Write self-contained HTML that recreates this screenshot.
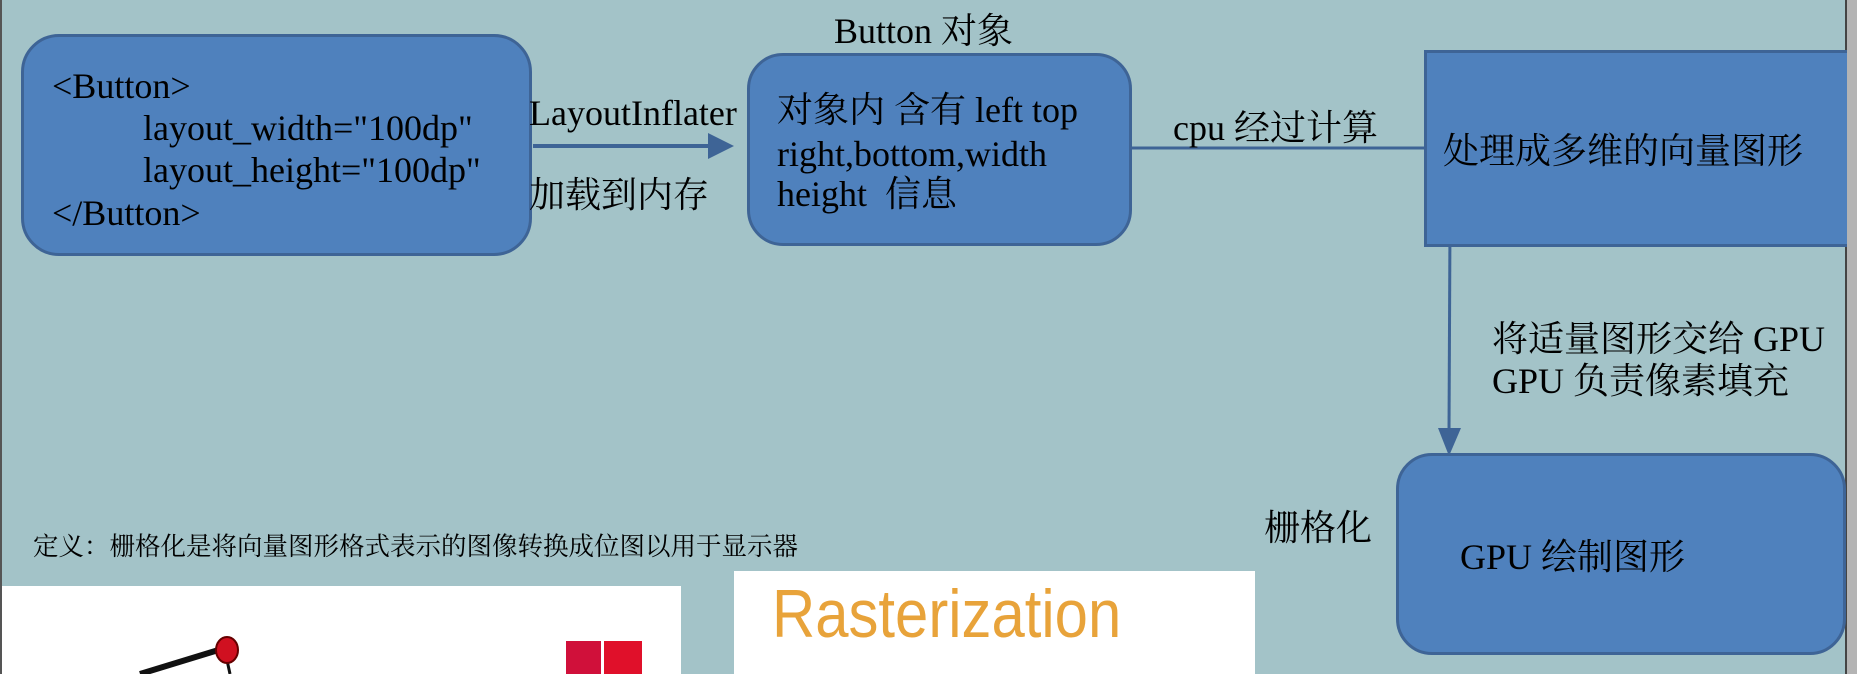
<!DOCTYPE html>
<html><head><meta charset="utf-8"><style>
body{margin:0;width:1857px;height:674px;overflow:hidden;position:relative;background:#a3c3c8;font-family:"Liberation Serif","Noto Serif CJK SC","Noto Sans CJK SC",serif;color:#000}
.b{position:absolute;background:#4f81bd;border:3px solid #3e6496;box-sizing:border-box}
.t{position:absolute;white-space:nowrap;font-size:36px;line-height:1}
</style></head><body>
<div style="position:absolute;left:0;top:0;width:2px;height:674px;background:#555"></div>
<div style="position:absolute;left:1845px;top:0;width:2px;height:674px;background:#444"></div>
<div style="position:absolute;left:1847px;top:0;width:10px;height:674px;background:#b4b4b4"></div>

<div class="b" style="left:21px;top:34px;width:511px;height:222px;border-radius:38px"></div>
<div class="t" style="left:52px;top:68px">&lt;Button&gt;</div>
<div class="t" style="left:143px;top:110px">layout_width="100dp"</div>
<div class="t" style="left:143px;top:152px">layout_height="100dp"</div>
<div class="t" style="left:52px;top:195px">&lt;/Button&gt;</div>

<svg style="position:absolute;left:0;top:0" width="1857" height="674">
<line x1="533" y1="146" x2="710" y2="146" stroke="#3e6496" stroke-width="4"/>
<polygon points="708,133 734,146 708,159" fill="#3e6496"/>
<line x1="1131" y1="148" x2="1426" y2="148" stroke="#3e6496" stroke-width="3"/>
<line x1="1450" y1="223" x2="1449" y2="432" stroke="#3e6496" stroke-width="3"/>
<polygon points="1438,428 1461,428 1449,456" fill="#3e6496"/>
</svg>

<div class="t" style="left:529px;top:95px">LayoutInflater</div>
<div class="t" style="left:529px;top:177px">加载到内存</div>

<div class="t" style="left:834px;top:13px">Button 对象</div>
<div class="b" style="left:747px;top:53px;width:385px;height:193px;border-radius:36px"></div>
<div class="t" style="left:777px;top:92px">对象内 含有 left top</div>
<div class="t" style="left:777px;top:136px">right,bottom,width</div>
<div class="t" style="left:777px;top:176px">height &nbsp;信息</div>

<div class="t" style="left:1173px;top:110px">cpu 经过计算</div>

<div class="b" style="left:1424px;top:50px;width:423px;height:197px;border-right:none"></div>
<div class="t" style="left:1443px;top:133px;font-size:36px">处理成多维的向量图形</div>

<div class="t" style="left:1492px;top:321px">将适量图形交给 GPU</div>
<div class="t" style="left:1492px;top:363px">GPU 负责像素填充</div>

<div class="t" style="left:1264px;top:510px">栅格化</div>
<div class="b" style="left:1396px;top:453px;width:450px;height:202px;border-radius:36px"></div>
<div class="t" style="left:1460px;top:539px">GPU 绘制图形</div>

<div class="t" style="left:33px;top:534px;font-size:25.5px">定义：栅格化是将向量图形格式表示的图像转换成位图以用于显示器</div>

<div style="position:absolute;left:2px;top:586px;width:679px;height:88px;background:#fff"></div>
<svg style="position:absolute;left:0;top:586px" width="681" height="88">
<line x1="140" y1="88" x2="225" y2="62" stroke="#111" stroke-width="6"/>
<line x1="225" y1="65" x2="230" y2="88" stroke="#111" stroke-width="3"/>
<ellipse cx="227" cy="64" rx="11" ry="13" fill="#d01020" stroke="#600" stroke-width="2"/>
<rect x="566" y="55" width="35" height="33" fill="#d0103a"/>
<rect x="604" y="55" width="38" height="33" fill="#e0102a"/>
</svg>
<div style="position:absolute;left:734px;top:571px;width:521px;height:103px;background:#fff"></div>
<div class="t" style="left:772px;top:580px;font-family:'Liberation Sans',sans-serif;font-size:68px;color:#e8a33a;transform:scaleX(0.88);transform-origin:left top">Rasterization</div>
</body></html>
